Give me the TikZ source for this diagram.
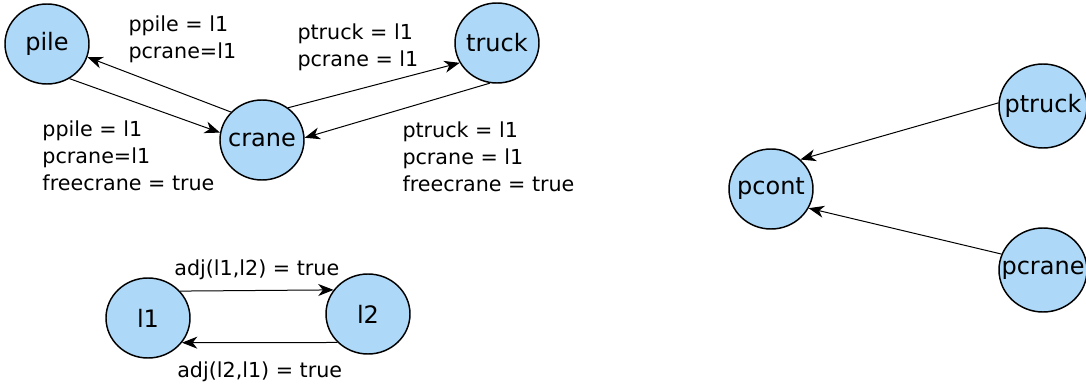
\documentclass[tikz,border=0pt]{standalone}
\usepackage{fontspec}
\setmainfont{DejaVu Sans}
\usepackage{tikz}
\usetikzlibrary{automata, arrows.meta, shapes.geometric}

\definecolor{statefill}{RGB}{173,216,247}
% keep the name out of the ellipse size
\newcommand{\stname}[1]{\makebox[0pt]{#1}}

\begin{document}
\begin{tikzpicture}[x=0.75pt,y=-0.75pt,auto,line width=0.75pt,
		>={Stealth[length=11.5pt,width=9pt,inset=3.5pt]},
		every state/.style={ellipse,draw,line width=1.1pt,fill=statefill,inner sep=0pt,
			minimum width=63pt,minimum height=60pt,font=\fontsize{18}{21}\selectfont},
		wide/.style={minimum width=66pt,minimum height=63pt},
		cond/.style={align=left,anchor=north west,inner sep=0pt,font=\fontsize{15.5}{20.25}\selectfont},
		adj/.style={font=\fontsize{15.5}{20.25}\selectfont,inner sep=8pt},
		adjlow/.style={adj,inner sep=14pt}]
	\useasboundingbox (0,0) rectangle (1086,385);
	% crane moves between pile and truck
	\node[state] (pile)  at (47,44)   {\stname{pile}};
	\node[state] (truck) at (497,43)  {\stname{truck}};
	\node[state] (crane) at (262,140) {\stname{crane}};
	% locations
	\node[state] (l1) at (148,318) {\stname{l1}};
	\node[state] (l2) at (368,314) {\stname{l2}};
	% container position
	\node[state]      (pcont)  at (771,189)  {\stname{pcont}};
	\node[state,wide] (ptruck) at (1043,106) {\stname{ptruck}};
	\node[state,wide] (pcrane) at (1043,270) {\stname{pcrane}};

	\node[cond] (cpile)  at (128,15)  {ppile = l1\\pcrane=l1};
	\node[cond] (ctruck) at (297,23)  {ptruck = l1\\pcrane = l1};
	\node[cond] (cload)  at (42,120)  {ppile = l1\\pcrane=l1\\freecrane = true};
	\node[cond] (cdrop)  at (402,121) {ptruck = l1\\pcrane = l1\\freecrane = true};

	\path[->] (crane.138)  edge (pile.-18)
			  (pile.-57)   edge (crane.170)
			  (crane.51)   edge (truck.-152)
			  (truck.-100) edge (crane.3)
			  (l1.40)      edge node[adj] {adj(l1,l2) = true} (l2.145)
			  (l2.-137)    edge node[adjlow] {adj(l2,l1) = true} (l1.-36)
			  (ptruck.176) edge (pcont.45)
			  (pcrane.159) edge (pcont.-27);
\end{tikzpicture}
\end{document}
